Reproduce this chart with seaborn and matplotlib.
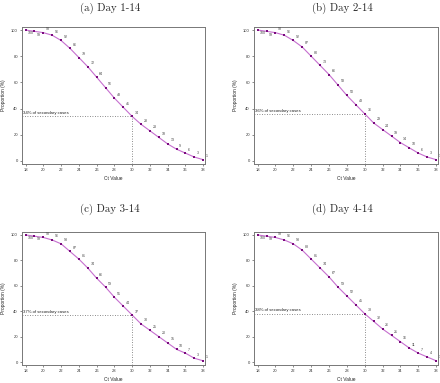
import matplotlib
matplotlib.use("Agg")
import matplotlib.pyplot as plt
import seaborn as sns
import pandas as pd

ct_values = list(range(18, 39))

day_1_14 = [100, 99, 98, 96, 92, 86, 79, 72, 64, 56, 48, 41, 34, 28, 23, 18, 13, 9, 6, 3, 1]
day_2_14 = [100, 99, 98, 96, 92, 87, 80, 73, 66, 58, 50, 43, 36, 29, 24, 19, 14, 10, 6, 3, 1]
day_3_14 = [100, 99, 98, 96, 93, 87, 81, 74, 66, 59, 51, 44, 37, 30, 25, 20, 15, 10, 7, 3, 1]
day_4_14 = [100, 99, 98, 96, 93, 88, 81, 74, 67, 59, 52, 45, 38, 32, 26, 21, 16, 11, 7, 4, 1]

titles = ["(a) Day 1-14", "(b) Day 2-14", "(c) Day 3-14", "(d) Day 4-14"]
series = [day_1_14, day_2_14, day_3_14, day_4_14]
cutoff = 30

sns.set_style("white")
plt.rcParams["font.family"] = ["Liberation Sans", "DejaVu Sans"]

W, H = 440, 383
fig = plt.figure(figsize=(W / 100, H / 100), dpi=100)

# axes boxes in pixels: left, top, right, bottom
boxes = [(22, 27, 205, 164), (254, 27, 438, 164),
         (22, 232, 205, 365), (254, 232, 438, 365)]
title_y = [8, 209]
title_x = [110, 342]

for i, (title, vals) in enumerate(zip(titles, series)):
    l, t, r, b = boxes[i]
    ax = fig.add_axes([l / W, 1 - b / H, (r - l) / W, (b - t) / H])
    df = pd.DataFrame({"ct": ct_values, "prop": vals})
    sns.lineplot(data=df, x="ct", y="prop", color="#c66fcf", linewidth=0.8, ax=ax)
    sns.scatterplot(data=df, x="ct", y="prop", color="#7a0a7e", marker="s",
                    s=4.5, linewidth=0, ax=ax, zorder=3)
    for j, (x, y) in enumerate(zip(ct_values, vals)):
        if j in (0, 1):
            ax.text(x + 0.3, y - 1.0, str(y), fontsize=2.6, color="#444444",
                    ha="left", va="top")
        else:
            ax.text(x + 0.3, y + 1.2, str(y), fontsize=2.6, color="#444444",
                    ha="left", va="bottom")
    v = vals[ct_values.index(cutoff)]
    ax.plot([17.6, cutoff], [v, v], ls=(0, (1, 2)), color="#666666", lw=0.6)
    ax.plot([cutoff, cutoff], [-2.3, v], ls=(0, (1, 2)), color="#666666", lw=0.6)
    ax.text(17.75, v + 1.0, f"{v}% of secondary cases", fontsize=3.1,
            color="#222222", ha="left", va="bottom")
    ax.set_xlim(17.6, 38.2)
    ax.set_ylim(-2.3, 102.3)
    ax.set_xticks(range(18, 39, 2))
    ax.set_yticks(range(0, 101, 20))
    ax.tick_params(labelsize=3.0, length=1.5, width=0.4, pad=1.5,
                   colors="#333333", bottom=True, left=True)
    ax.set_xlabel("Ct Value", fontsize=3.5, labelpad=3)
    ax.set_ylabel("Proportion (%)", fontsize=3.5, labelpad=4)
    for s in ax.spines.values():
        s.set_color("#777777")
        s.set_linewidth(0.7)
    fig.text(title_x[i % 2] / W, 1 - title_y[i // 2] / H, title,
             fontsize=7.8, family="cmr10", ha="center", va="center")

fig.savefig("out.png", dpi=100)
